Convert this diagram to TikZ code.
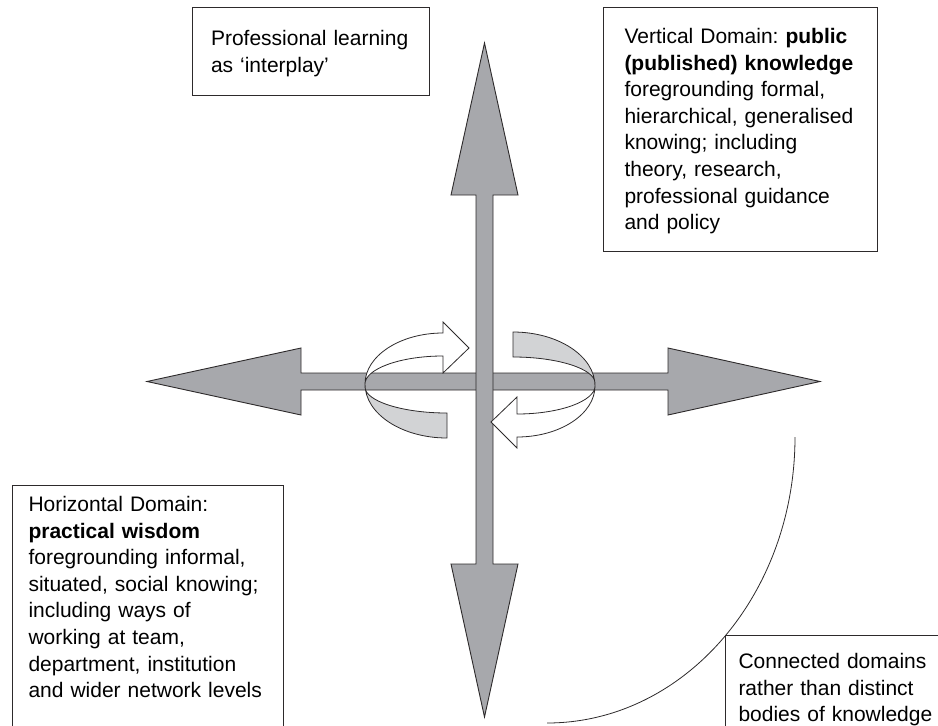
\documentclass[tikz,border=0pt]{standalone}
\usepackage{fontspec}
\setmainfont{Liberation Sans}
\usetikzlibrary{positioning}

\definecolor{shaftgray}{RGB}{167,168,172}
\definecolor{backgray}{RGB}{210,211,213}
\definecolor{edgegray}{RGB}{45,42,43}

\begin{document}
\frenchspacing
\begin{tikzpicture}[x=1pt, y=-1pt,
textbox/.style={rectangle, draw=edgegray, line width=1pt, anchor=north west, align=left, inner ysep=8pt, font=\fontsize{21}{26.6}\selectfont},
bigarrow/.style={draw=edgegray, fill=shaftgray, line width=0.9pt, line join=miter},
frontband/.style={draw=edgegray, fill=white, line width=0.8pt},
backband/.style={draw=edgegray, fill=backgray, line width=0.8pt},
twist/.pic={
  \path[backband] (-115,-1) .. controls (-115,29) and (-78,53) .. (-33,53) -- (-33,28) .. controls (-78,28) and (-115,16) .. (-115,2) -- cycle;
  \path[frontband] (-37,-52) .. controls (-80,-52) and (-115,-29) .. (-115,-1) .. controls (-115,-16) and (-80,-29) .. (-37,-29) -- (-37,-12) -- (-11,-37) -- (-37,-63) -- cycle;
}
]
\useasboundingbox (0,0) rectangle (938,726);
\clip (0,0) rectangle (938,726);

%Arrows
\path[bigarrow] (147,381.5) -- (301,348) -- (301,373) -- (668,373) -- (668,348) -- (820,381.5) -- (668,415) -- (668,390) -- (301,390) -- (301,415) -- cycle;
\path[bigarrow] (484.5,43) -- (518,195) -- (493,195) -- (493,564) -- (518,564) -- (484.5,717) -- (451,564) -- (476,564) -- (476,195) -- (451,195) -- cycle;

%Loops
\pic at (480,385) {twist};
\pic[rotate=180] at (480,385) {twist};

%Nodes
\node[textbox, inner xsep=18.5pt, text width=200pt, text height=30pt, text depth=42pt] (interplay) at (192,7)
  {Professional learning\\as ‘interplay’};
\node[textbox, inner xsep=21pt, text width=232pt, text height=28pt, text depth=200pt] (vertical) at (603,7)
  {Vertical Domain: \textbf{public}\\\textbf{(published) knowledge}\\foregrounding formal,\\hierarchical, generalised\\knowing; including\\theory, research,\\professional guidance\\and policy};
\node[textbox, inner xsep=16pt, text width=239pt, text height=18pt, text depth=260pt] (horizontal) at (12,485)
  {Horizontal Domain:\\\textbf{practical wisdom}\\foregrounding informal,\\situated, social knowing;\\including ways of\\working at team,\\department, institution\\and wider network levels};
\node[textbox, inner xsep=13pt, text width=230pt, text height=25pt, text depth=100pt] (connected) at (725,635)
  {Connected domains\\rather than distinct\\bodies of knowledge};

%Lines
\coordinate (arcstart) at (795,437);
\draw[edgegray, line width=0.8pt] (arcstart) arc[start angle=0, end angle=90, x radius=248, y radius=286];
\end{tikzpicture}
\end{document}
